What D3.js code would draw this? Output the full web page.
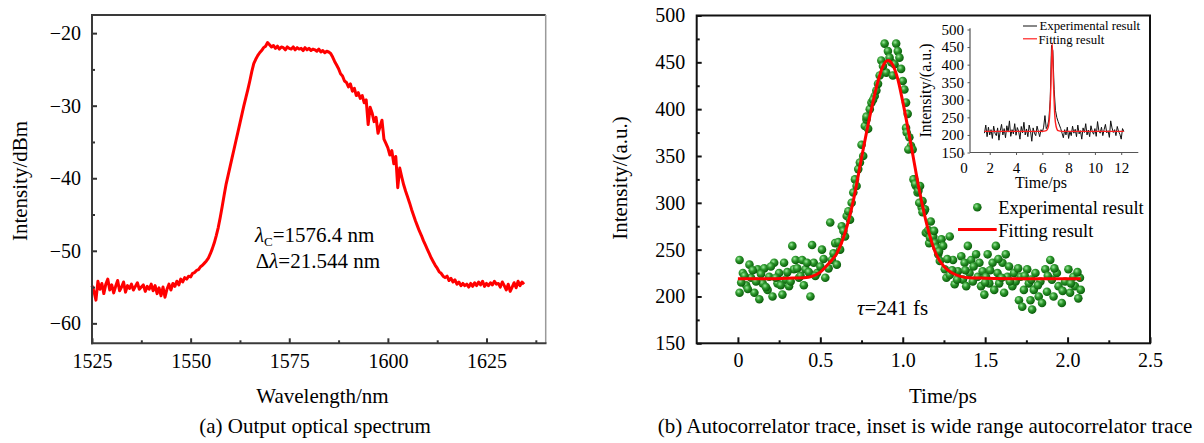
<!DOCTYPE html>
<html><head><meta charset="utf-8">
<script src="https://cdn.jsdelivr.net/npm/d3@7"></script>
<style>body{margin:0;background:#fff}svg{display:block}text{font-family:"Liberation Serif","Times New Roman",serif;fill:#000}</style>
</head><body><svg id="c" width="1204" height="443"></svg>
<script>
// ---------- (a) spectrum ----------
const specWavelength = [
1525,1525.5,1526,1526.5,1527,1527.5,1528,1528.5,1529,1529.5,
1530,1530.5,1531,1531.5,1532,1532.5,1533,1533.5,1534,1534.5,
1535,1535.5,1536,1536.5,1537,1537.5,1538,1538.5,1539,1539.5,
1540,1540.5,1541,1541.5,1542,1542.5,1543,1543.5,1544,1544.5,
1545,1545.5,1546,1546.5,1547,1547.5,1548,1548.5,1549,1549.5,
1550,1550.5,1551,1551.5,1552,1552.5,1553,1553.5,1554,1554.5,
1555,1555.5,1556,1556.5,1557,1557.5,1558,1558.5,1559,1559.5,
1560,1560.5,1561,1561.5,1562,1562.5,1563,1563.5,1564,1564.5,
1565,1565.5,1566,1566.5,1567,1567.5,1568,1568.5,1569,1569.5,
1570,1570.5,1571,1571.5,1572,1572.5,1573,1573.5,1574,1574.5,
1575,1575.5,1576,1576.5,1577,1577.5,1578,1578.5,1579,1579.5,
1580,1580.5,1581,1581.5,1582,1582.5,1583,1583.5,1584,1584.5,
1585,1585.5,1586,1586.5,1587,1587.5,1588,1588.5,1589,1589.5,
1590,1590.5,1591,1591.5,1592,1592.5,1593,1593.5,1594,1594.5,
1595,1595.5,1596,1596.5,1597,1597.5,1598,1598.5,1599,1599.5,
1600,1600.5,1601,1601.5,1602,1602.5,1603,1603.5,1604,1604.5,
1605,1605.5,1606,1606.5,1607,1607.5,1608,1608.5,1609,1609.5,
1610,1610.5,1611,1611.5,1612,1612.5,1613,1613.5,1614,1614.5,
1615,1615.5,1616,1616.5,1617,1617.5,1618,1618.5,1619,1619.5,
1620,1620.5,1621,1621.5,1622,1622.5,1623,1623.5,1624,1624.5,
1625,1625.5,1626,1626.5,1627,1627.5,1628,1628.5,1629,1629.5,
1630,1630.5,1631,1631.5,1632,1632.5,1633,1633.5,1634,1634.5];
const specPower = [
-54.8,-55.6,-56.8,-54.2,-55.3,-54.5,-55.9,-54.6,-53.9,-55.4,
-54.7,-55.8,-54.9,-54.1,-55.5,-55.0,-54.3,-55.7,-54.8,-55.2,
-54.6,-55.4,-54.9,-54.4,-55.3,-55.0,-54.7,-55.6,-54.9,-55.3,
-54.6,-55.5,-54.8,-55.9,-55.1,-56.2,-55.0,-56.4,-55.3,-54.6,
-55.4,-54.5,-54.9,-54.2,-54.7,-53.9,-54.3,-53.7,-53.9,-53.5,
-53.6,-53.1,-53.0,-52.7,-52.6,-52.2,-52.0,-51.7,-51.4,-51.0,
-50.4,-49.7,-48.9,-47.9,-46.8,-45.4,-43.9,-42.3,-40.8,-39.6,
-38.4,-37.2,-36.0,-34.8,-33.6,-32.4,-31.2,-30.0,-28.9,-27.8,
-26.6,-25.3,-24.2,-23.6,-23.1,-22.7,-22.4,-22.0,-21.8,-21.3,
-21.6,-21.9,-21.7,-22.1,-21.8,-22.2,-21.9,-22.0,-22.3,-21.9,
-22.1,-22.2,-21.9,-22.3,-22.0,-22.2,-22.1,-22.4,-22.0,-22.3,
-22.1,-22.4,-22.2,-22.3,-22.5,-22.2,-22.6,-22.4,-22.7,-22.5,
-22.6,-22.8,-23.3,-23.9,-24.4,-24.9,-25.6,-25.9,-26.6,-26.8,
-27.4,-27.0,-28.0,-27.6,-28.6,-28.2,-29.0,-28.6,-29.6,-29.2,
-32.6,-30.2,-31.0,-32.2,-31.6,-33.8,-32.9,-32.0,-34.6,-35.2,
-35.8,-36.8,-36.2,-38.0,-37.0,-41.3,-38.6,-39.8,-40.9,-41.8,
-42.6,-43.4,-44.3,-45.1,-45.9,-46.6,-47.3,-47.9,-48.6,-49.2,
-49.8,-50.4,-51.0,-51.5,-52.0,-52.4,-52.9,-53.1,-53.5,-53.7,
-53.5,-54.1,-53.8,-54.3,-54.0,-54.6,-54.3,-54.8,-54.5,-54.8,
-54.6,-55.0,-54.5,-54.9,-54.4,-54.8,-54.3,-54.7,-54.2,-54.9,
-54.5,-54.8,-54.4,-54.7,-54.2,-54.6,-54.5,-55.0,-54.3,-54.8,
-55.4,-54.6,-55.6,-55.0,-54.4,-55.1,-54.2,-54.8,-54.3,-54.6];
const specXTicks = [1525,1550,1575,1600,1625];
const specXMinor = [1537.5,1562.5,1587.5,1612.5,1637.5];
const specYTicks = [-60,-50,-40,-30,-20];
const specYMinor = [-55,-45,-35,-25];

// ---------- (b) autocorrelation ----------
const scatterTime = [
0.01,0.01,0.03,0.05,0.07,0.08,0.10,0.12,0.13,0.15,0.16,0.18,0.19,0.21,0.22,0.24,0.25,0.27,0.28,0.29,
0.31,0.33,0.34,0.35,0.37,0.39,0.41,0.44,0.45,0.46,0.48,0.51,0.53,0.56,0.57,0.59,0.60,0.62,0.63,0.65,
0.66,0.67,0.69,0.70,0.71,0.73,0.74,0.76,0.77,0.78,0.79,0.80,0.81,0.83,0.84,0.85,0.86,0.87,0.89,0.90,
0.91,0.93,0.94,0.96,0.97,0.99,1.01,1.02,1.02,1.05,1.06,1.07,1.08,1.09,1.13,1.14,1.16,
1.024,1.034,1.065,1.075,1.095,1.105,1.115,1.12,1.135,1.145,1.155,1.165,1.185,1.195,1.205,1.215,1.225,1.235,1.245,1.255,
1.265,1.285,1.285,1.305,1.315,1.335,1.355,1.365,1.375,1.385,1.395,1.405,1.415,1.425,1.445,1.455,1.465,1.475,1.485,1.495,
1.505,1.515,1.525,1.545,1.555,1.565,1.575,1.585,1.605,1.615,1.625,1.635,1.645,1.665,1.675,1.685,1.705,1.715,1.725,1.735,
1.755,1.765,1.775,1.785,1.795,1.805,1.825,1.835,1.845,1.865,1.875,1.895,1.905,1.915,1.935,1.945,1.965,1.985,2.005,2.015,
2.035,2.045,2.065,2.075,
0.02,0.04,0.06,0.09,0.11,0.14,0.17,0.20,0.23,0.26,0.30,0.32,0.36,0.38,0.40,0.42,0.43,0.47,0.50,0.52,
0.55,0.58,0.61,0.64,0.68,0.72,0.75,0.78,0.82,0.88,0.92,0.95,0.98,1.00,1.03,1.04,1.10,1.12,1.17,1.19,
1.22,1.27,1.30,1.33,1.38,1.43,1.50,1.53,1.58,1.60,1.65,1.70,1.74,1.78,1.82,1.88,1.92,1.97,2.02,2.06,2.08];
const scatterIntensity = [
239,204,225,212,234,220,204,229,197,214,230,207,221,200,236,214,225,202,236,218,
211,254,229,239,220,239,229,200,255,236,225,250,220,279,239,257,234,250,275,264,
286,291,300,311,325,336,343,350,382,389,379,400,407,414,420,427,436,452,470,439,
462,450,436,470,462,443,421,407,380,361,357,325,318,311,291,268,257,
375,357,325,320,313,318,295,302,293,268,271,263,264,257,252,245,238,261,254,229,
220,264,223,239,213,227,243,218,236,211,254,225,239,216,245,221,236,211,227,202,
221,245,214,236,207,254,225,214,236,204,245,221,232,211,225,216,196,221,189,207,
229,214,196,186,207,225,200,216,193,229,205,239,218,200,225,211,193,216,229,204,
221,211,198,220,
215,222,208,228,216,224,210,232,220,212,226,216,230,222,212,236,226,222,232,240,
230,246,258,270,282,318,362,392,410,446,455,448,455,430,395,370,300,290,280,270,
248,240,228,218,228,232,215,228,240,220,216,230,222,218,212,222,230,206,214,226,207];
const fitTime = [0,0.1,0.2,0.3,0.4,0.45,0.5,0.55,0.6,0.65,0.7,0.75,0.8,0.85,0.88,0.91,0.94,0.97,1.0,1.05,1.1,1.15,1.2,1.25,1.3,1.35,1.4,1.5,1.7,1.9,2.08];
const fitIntensity = [219,219,219,219.5,220,221.5,226,235,246,268,302,348,392,430,446,452,447,432,408,362,314,274,246,232,225,221.5,220,219.5,219,219,219];
const acXTicks = [0,0.5,1.0,1.5,2.0,2.5];
const acXMinor = [0.25,0.75,1.25,1.75,2.25];
const acYTicks = [150,200,250,300,350,400,450,500];
const acYMinor = [175,225,275,325,375,425,475];

// ---------- inset ----------
const insetTime = [
1.6,1.7,1.8,1.9,2.0,2.1,2.2,2.3,2.4,2.5,2.6,2.7,2.8,2.9,3.0,3.1,3.2,3.3,3.4,3.5,
3.6,3.7,3.8,3.9,4.0,4.1,4.2,4.3,4.4,4.5,4.6,4.7,4.8,4.9,5.0,5.1,5.2,5.3,5.4,5.5,
5.6,5.7,5.8,5.9,6.0,6.1,6.2,6.3,6.4,6.5,6.6,6.7,6.8,6.9,7.0,7.1,7.2,7.3,7.4,7.5,
7.6,7.7,7.8,7.9,8.0,8.1,8.2,8.3,8.4,8.5,8.6,8.7,8.8,8.9,9.0,9.1,9.2,9.3,9.4,9.5,
9.6,9.7,9.8,9.9,10.0,10.1,10.2,10.3,10.4,10.5,10.6,10.7,10.8,10.9,11.0,11.1,11.2,11.3,11.4,11.5,
11.6,11.7,11.8,11.9,12.0,12.1,12.2];
const insetIntensity = [
205,228,195,222,200,215,190,225,205,198,220,185,212,230,200,218,192,226,208,240,
196,215,203,232,199,221,210,188,224,206,236,200,217,195,228,212,182,220,205,198,
225,210,195,215,208,222,255,218,225,245,300,455,440,330,270,250,238,228,218,205,
192,215,200,222,190,210,198,225,205,216,195,228,203,212,188,220,207,232,200,214,
195,226,210,202,218,196,238,212,205,222,198,215,230,206,212,193,240,220,207,215,
198,224,210,202,188,218,210];
const insetFitTime = [1.6,6.0,6.3,6.45,6.55,6.65,6.75,6.85,6.95,7.05,7.2,7.5,12.2];
const insetFitIntensity = [210,210,212,222,252,335,462,345,255,224,212,210,210];
const insetXTicks = [0,2,4,6,8,10,12];
const insetYTicks = [150,200,250,300,350,400,450,500];

// ================= drawing =================
const svg = d3.select("#c");
svg.append("rect").attr("width",1204).attr("height",443).attr("fill","#fff");
const defs = svg.append("defs");
const grad = defs.append("radialGradient").attr("id","ball").attr("cx","38%").attr("cy","35%").attr("r","65%");
grad.append("stop").attr("offset","0%").attr("stop-color","#9be89b");
grad.append("stop").attr("offset","45%").attr("stop-color","#2c982c");
grad.append("stop").attr("offset","100%").attr("stop-color","#0a5c0a");

function axisGroup(g, axis){ g.call(axis); g.select(".domain").remove(); return g; }

// ----- panel (a) -----
const xA = d3.scaleLinear().domain([1525,1640]).range([92,545.7]);
const yA = d3.scaleLinear().domain([-62.75,-17.5]).range([343.3,15]);
const gA = svg.append("g");
gA.append("line").attr("x1",92).attr("x2",545.7).attr("y1",15).attr("y2",15).attr("stroke","#3a3a3a").attr("stroke-width",2);
gA.append("line").attr("x1",545.7).attr("x2",545.7).attr("y1",15).attr("y2",343.3).attr("stroke","#9a9a9a").attr("stroke-width",1.5);
gA.append("path").datum(specWavelength.map((w,i)=>[w,specPower[i]]))
  .attr("d", d3.line().x(d=>xA(d[0])).y(d=>yA(d[1])))
  .attr("fill","none").attr("stroke","#ff0000").attr("stroke-width",3).attr("stroke-linejoin","round");
const ax1 = gA.append("g").attr("transform","translate(92,0)");
axisGroup(ax1, d3.axisLeft(yA).tickValues(specYMinor).tickSize(-3).tickFormat(""));
const ax2 = gA.append("g").attr("transform","translate(92,0)");
axisGroup(ax2, d3.axisLeft(yA).tickValues(specYTicks).tickSize(-5).tickPadding(11));
const ax3 = gA.append("g").attr("transform","translate(0,343.3)");
axisGroup(ax3, d3.axisBottom(xA).tickValues(specXMinor).tickSize(-3).tickFormat(""));
const ax4 = gA.append("g").attr("transform","translate(0,343.3)");
axisGroup(ax4, d3.axisBottom(xA).tickValues(specXTicks).tickSize(-5).tickPadding(10.5).tickFormat(d3.format("d")));
gA.selectAll(".tick line").attr("stroke","#333").attr("stroke-width",2);
gA.selectAll(".tick text").attr("font-family","Liberation Serif").attr("font-size",20).attr("fill","#000");
gA.append("line").attr("x1",92).attr("x2",92).attr("y1",14).attr("y2",344.3).attr("stroke","#3a3a3a").attr("stroke-width",2);
gA.append("line").attr("x1",91).attr("x2",546.5).attr("y1",343.3).attr("y2",343.3).attr("stroke","#3a3a3a").attr("stroke-width",2);
gA.append("text").attr("transform","translate(27,181) rotate(-90)").attr("text-anchor","middle").attr("font-size",21).text("Intensity/dBm");
gA.append("text").attr("x",322.5).attr("y",403).attr("text-anchor","middle").attr("font-size",21).text("Wavelength/nm");
gA.append("text").attr("x",315).attr("y",433).attr("text-anchor","middle").attr("font-size",21).text("(a) Output optical spectrum");
const t1 = gA.append("text").attr("x",255).attr("y",241.7).attr("font-size",21);
t1.append("tspan").attr("font-style","italic").text("λ");
t1.append("tspan").attr("font-size",13).attr("dy",4).text("C");
t1.append("tspan").attr("dy",-4).text("=1576.4 nm");
const t2 = gA.append("text").attr("x",255.7).attr("y",268.3).attr("font-size",21);
t2.append("tspan").text("Δ");
t2.append("tspan").attr("font-style","italic").text("λ");
t2.append("tspan").text("=21.544 nm");

// ----- panel (b) -----
const xB = d3.scaleLinear().domain([-0.25,2.5]).range([696.7,1150]);
const yB = d3.scaleLinear().domain([150,500]).range([343.3,15.5]);
const gB = svg.append("g");
gB.append("g").selectAll("circle").data(scatterTime.map((t,i)=>[t,scatterIntensity[i]])).join("circle")
  .attr("cx",d=>xB(d[0])).attr("cy",d=>yB(d[1])).attr("r",4.3).attr("fill","url(#ball)");
gB.append("path").datum(fitTime.map((t,i)=>[t,fitIntensity[i]]))
  .attr("d", d3.line().curve(d3.curveMonotoneX).x(d=>xB(d[0])).y(d=>yB(d[1])))
  .attr("fill","none").attr("stroke","#ff0000").attr("stroke-width",3);
const bx1 = gB.append("g").attr("transform","translate(696.7,0)");
axisGroup(bx1, d3.axisLeft(yB).tickValues(acYMinor).tickSize(-3).tickFormat(""));
const bx2 = gB.append("g").attr("transform","translate(696.7,0)");
axisGroup(bx2, d3.axisLeft(yB).tickValues(acYTicks).tickSize(-5).tickPadding(11.5).tickFormat(d3.format("d")));
const bx3 = gB.append("g").attr("transform","translate(0,343.3)");
axisGroup(bx3, d3.axisBottom(xB).tickValues(acXMinor).tickSize(-3).tickFormat(""));
const bx4 = gB.append("g").attr("transform","translate(0,343.3)");
axisGroup(bx4, d3.axisBottom(xB).tickValues(acXTicks).tickSize(-6).tickPadding(9.5).tickFormat(d=>d===0?"0":d3.format(".1f")(d)));
gB.selectAll(".tick line").attr("stroke","#111").attr("stroke-width",2);
gB.selectAll(".tick text").attr("font-family","Liberation Serif").attr("font-size",20).attr("fill","#000");
gB.append("rect").attr("x",696.7).attr("y",15.5).attr("width",1150-696.7).attr("height",343.3-15.5)
  .attr("fill","none").attr("stroke","#111").attr("stroke-width",2);
gB.append("text").attr("transform","translate(627,178) rotate(-90)").attr("text-anchor","middle").attr("font-size",21).text("Intensity/(a.u.)");
gB.append("text").attr("x",943).attr("y",403).attr("text-anchor","middle").attr("font-size",21).text("Time/ps");
gB.append("text").attr("x",925).attr("y",433).attr("text-anchor","middle").attr("font-size",21).text("(b) Autocorrelator trace, inset is wide range autocorrelator trace");
const t3 = gB.append("text").attr("x",857).attr("y",315).attr("font-size",21);
t3.append("tspan").attr("font-style","italic").text("τ");
t3.append("tspan").text("=241 fs");
gB.append("circle").attr("cx",977.3).attr("cy",207.3).attr("r",4.3).attr("fill","url(#ball)");
gB.append("text").attr("x",998.3).attr("y",213.5).attr("font-size",18.5).text("Experimental result");
gB.append("line").attr("x1",958).attr("x2",996.7).attr("y1",229.5).attr("y2",229.5).attr("stroke","#ff0000").attr("stroke-width",3);
gB.append("text").attr("x",998.3).attr("y",236.7).attr("font-size",18.5).text("Fitting result");

// ----- inset -----
const xI = d3.scaleLinear().domain([0.5,13.3]).range([970,1138.3]);
const yI = d3.scaleLinear().domain([150,500]).range([152.5,29.5]);
const gI = svg.append("g");
gI.append("path").datum(insetTime.map((t,i)=>[t,insetIntensity[i]]))
  .attr("d", d3.line().x(d=>xI(d[0])).y(d=>yI(d[1])))
  .attr("fill","none").attr("stroke","#111").attr("stroke-width",1);
gI.append("path").datum(insetFitTime.map((t,i)=>[t,insetFitIntensity[i]]))
  .attr("d", d3.line().curve(d3.curveMonotoneX).x(d=>xI(d[0])).y(d=>yI(d[1])))
  .attr("fill","none").attr("stroke","#ff2020").attr("stroke-width",1.4);
const ix1 = gI.append("g").attr("transform","translate(970,0)");
axisGroup(ix1, d3.axisLeft(yI).tickValues(insetYTicks).tickSize(2.5).tickPadding(3.5).tickFormat(d3.format("d")));
const ix2 = gI.append("g").attr("transform","translate(0,152.5)");
axisGroup(ix2, d3.axisBottom(xI).tickValues(insetXTicks).tickSize(2.5).tickPadding(7).tickFormat(d3.format("d")));
gI.selectAll(".tick line").attr("stroke","#555").attr("stroke-width",1);
gI.selectAll(".tick text").attr("font-family","Liberation Serif").attr("font-size",15).attr("fill","#000");
gI.append("line").attr("x1",970).attr("x2",970).attr("y1",28.3).attr("y2",152.5).attr("stroke","#555").attr("stroke-width",1.2);
gI.append("line").attr("x1",970).attr("x2",1138.3).attr("y1",152.5).attr("y2",152.5).attr("stroke","#555").attr("stroke-width",1.2);
gI.append("text").attr("transform","translate(931,90.5) rotate(-90)").attr("text-anchor","middle").attr("font-size",16).text("Intensity/(a.u.)");
gI.append("text").attr("x",1041).attr("y",188.3).attr("text-anchor","middle").attr("font-size",16).text("Time/ps");
gI.append("line").attr("x1",1023).attr("x2",1037).attr("y1",26).attr("y2",26).attr("stroke","#111").attr("stroke-width",1);
gI.append("text").attr("x",1039.5).attr("y",30).attr("font-size",12.8).text("Experimental result");
gI.append("line").attr("x1",1023).attr("x2",1037).attr("y1",38.8).attr("y2",38.8).attr("stroke","#ff2020").attr("stroke-width",1.2);
gI.append("text").attr("x",1038.5).attr("y",44).attr("font-size",12.8).text("Fitting result");
</script></body></html>
